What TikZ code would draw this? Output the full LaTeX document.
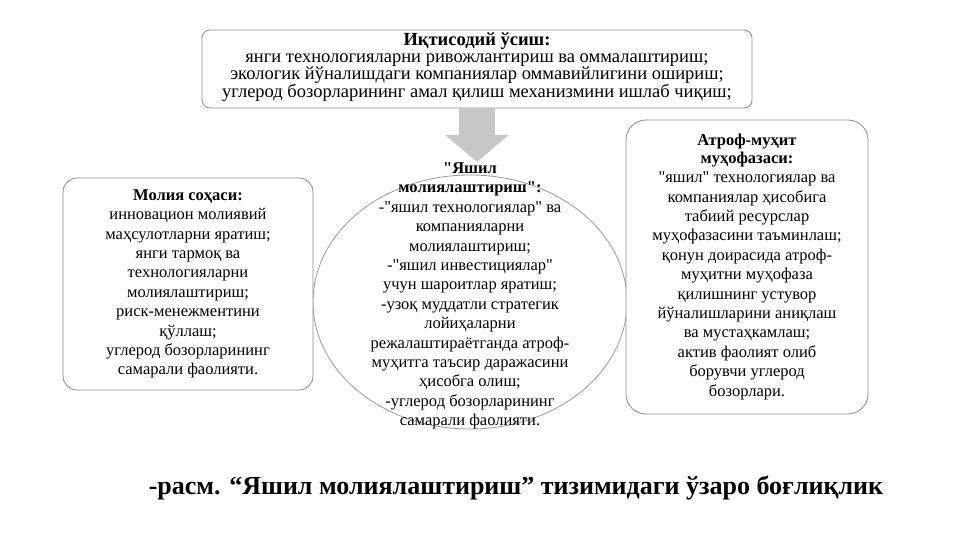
\documentclass[tikz,border=0pt]{standalone}
\usepackage{fontspec}
\setmainfont{Liberation Serif}[Ligatures=TeXOff]
\usetikzlibrary{shapes.geometric,arrows.meta}

\begin{document}
\begin{tikzpicture}[x=1pt,y=-1pt,
  txt/.style={align=center,font=\fontsize{16.5}{19.4}\selectfont,inner sep=0pt},
  areabox/.style={draw=black!45,rounded corners=14pt,line width=0.8pt,fill=white},
  blockarrow/.style={draw=black!22,line width=36pt,-{Triangle[width=62pt,length=27pt]}}]
\useasboundingbox (0,0) rectangle (961,540);

\node[areabox,rounded corners=8pt,minimum width=550pt,minimum height=78pt] (growth) at (477,69) {};
\node[txt,font=\fontsize{18.5}{17}\selectfont] (growthtxt) at (477,67) {\textbf{Иқтисодий ўсиш:}\\
янги технологияларни ривожлантириш ва оммалаштириш;\\
экологик йўналишдаги компаниялар оммавийлигини ошириш;\\
углерод бозорларининг амал қилиш механизмини ишлаб чиқиш;};

\coordinate (arrowtip) at (477,162);
\draw[blockarrow] (growth.south) -- (arrowtip);

\node[ellipse,draw=black!40,line width=0.8pt,minimum width=314pt,minimum height=254pt] (green) at (470,302) {};
\node[txt] (greentxt) at (470,296) {\textbf{"Яшил}\\
\textbf{молиялаштириш":}\\
-"яшил технологиялар" ва\\
компанияларни\\
молиялаштириш;\\
-"яшил инвестициялар"\\
учун шароитлар яратиш;\\
-узоқ муддатли стратегик\\
лойиҳаларни\\
режалаштираётганда атроф-\\
муҳитга таъсир даражасини\\
ҳисобга олиш;\\
-углерод бозорларининг\\
самарали фаолияти.};

\node[areabox,minimum width=250pt,minimum height=212pt] (finance) at (188,284) {};
\node[txt] (financetxt) at (188,284) {\textbf{Молия соҳаси:}\\
инновацион молиявий\\
маҳсулотларни яратиш;\\
янги тармоқ ва\\
технологияларни\\
молиялаштириш;\\
риск-менежментини\\
қўллаш;\\
углерод бозорларининг\\
самарали фаолияти.};

\node[areabox,rounded corners=20pt,minimum width=242pt,minimum height=294pt] (nature) at (747,267) {};
\node[txt] (naturetxt) at (747,267) {\textbf{Атроф-муҳит}\\[-2pt]
\textbf{муҳофазаси:}\\
"яшил" технологиялар ва\\
компаниялар ҳисобига\\
табиий ресурслар\\
муҳофазасини таъминлаш;\\
қонун доирасида атроф-\\
муҳитни муҳофаза\\
қилишнинг устувор\\
йўналишларини аниқлаш\\
ва мустаҳкамлаш;\\
актив фаолият олиб\\
борувчи углерод\\
бозорлари.};

\node[txt,font=\fontsize{26}{30}\selectfont\bfseries] (caption) at (516,488) {-расм. “Яшил молиялаштириш” тизимидаги ўзаро боғлиқлик};
\end{tikzpicture}
\end{document}
